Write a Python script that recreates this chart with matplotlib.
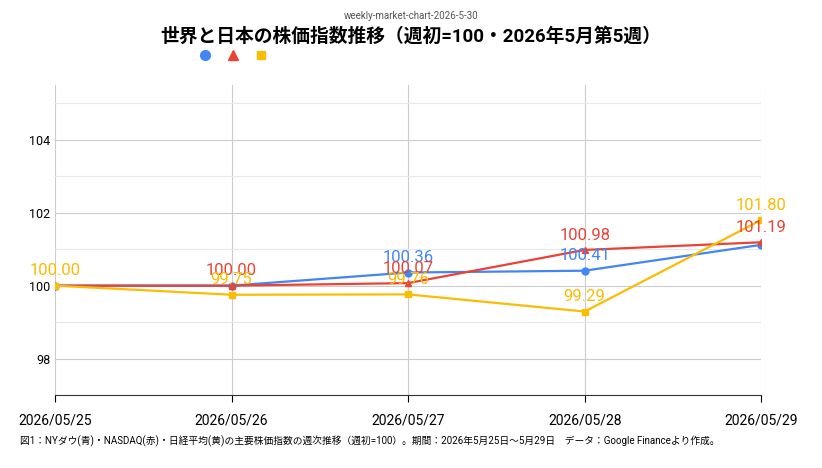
import matplotlib.pyplot as plt
from matplotlib.ticker import MultipleLocator

plt.rcParams['font.family'] = ['Roboto', 'Noto Sans CJK JP', 'DejaVu Sans']

dates = ['2026/05/25', '2026/05/26', '2026/05/27', '2026/05/28', '2026/05/29']
dow = [100.00, 100.00, 100.36, 100.41, 101.12]
nasdaq = [100.00, 100.00, 100.07, 100.98, 101.19]
nikkei = [100.00, 99.75, 99.76, 99.29, 101.80]

blue, red, yellow = '#4285f4', '#ea4335', '#fbbc04'

fig = plt.figure(figsize=(8.22, 4.68), dpi=100)
ax = fig.add_axes([0.067, 0.156, 0.859, 0.662])
x = range(len(dates))
ax.plot(x, dow, color=blue, marker='o', ms=5, lw=1.6)
ax.plot(x, nasdaq, color=red, marker='^', ms=5, lw=1.6)
ax.plot(x, nikkei, color=yellow, marker='s', ms=4.5, lw=1.6)

# data labels
for i in range(len(dates)):
    if i in (2, 3):
        ax.text(i, dow[i] + 0.2, f'{dow[i]:.2f}', color=blue, ha='center', va='bottom', fontsize=12)
    if i >= 1:
        ax.text(i, nasdaq[i] + 0.2, f'{nasdaq[i]:.2f}', color=red, ha='center', va='bottom', fontsize=12)
    ax.text(i, nikkei[i] + 0.2, f'{nikkei[i]:.2f}', color=yellow, ha='center', va='bottom', fontsize=12)

ax.set_xlim(0, 4)
ax.set_ylim(97.0, 105.5)
ax.yaxis.set_major_locator(MultipleLocator(2))
ax.yaxis.set_minor_locator(MultipleLocator(1))
ax.set_xticks(list(x))
ax.set_xticklabels(dates, fontsize=10)
ax.tick_params(axis='y', labelsize=9, length=0)
ax.tick_params(axis='y', which='minor', length=0)
ax.tick_params(axis='x', length=5, pad=8)
ax.grid(axis='y', which='major', color='#cccccc', lw=0.8)
ax.grid(axis='y', which='minor', color='#e8e8e8', lw=0.8)
ax.grid(axis='x', color='#cccccc', lw=0.8)
for s in ['top', 'right', 'left']:
    ax.spines[s].set_visible(False)
ax.spines['bottom'].set_color('#333333')
ax.set_axisbelow(True)

fig.text(0.5, 0.966, 'weekly-market-chart-2026-5-30', ha='center', va='center', fontsize=7, color='#555555')
fig.text(0.5, 0.921, '世界と日本の株価指数推移（週初=100・2026年5月第5週）', ha='center', va='center', fontsize=13.5, weight='bold')
fig.lines.append(plt.Line2D([205 / 822], [1 - 55 / 468], marker='o', color=blue, ms=7, transform=fig.transFigure))
fig.lines.append(plt.Line2D([233 / 822], [1 - 55 / 468], marker='^', color=red, ms=7, transform=fig.transFigure))
fig.lines.append(plt.Line2D([261 / 822], [1 - 55 / 468], marker='s', color=yellow, ms=6, transform=fig.transFigure))
fig.text(20 / 822, 1 - 441 / 468, '図1：NYダウ(青)・NASDAQ(赤)・日経平均(黄)の主要株価指数の週次推移（週初=100）。期間：2026年5月25日〜5月29日　データ：Google Financeより作成。',
         ha='left', va='center', fontsize=7)

fig.savefig('out.png', dpi=100)
